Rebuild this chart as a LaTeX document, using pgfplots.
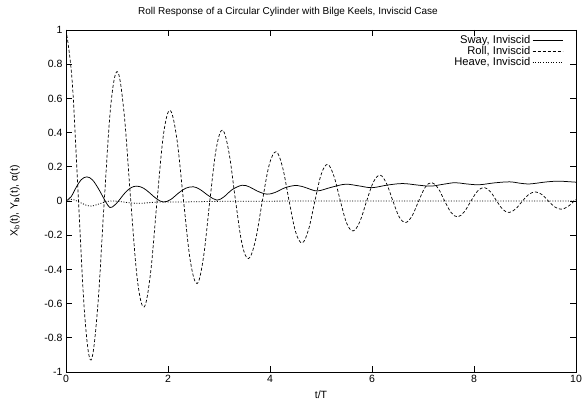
\documentclass[border=0pt]{standalone}
\usepackage{fontspec}
\setmainfont{Liberation Sans}
\usepackage{pgfplots}
\pgfplotsset{compat=1.18}
\begin{document}
\begin{tikzpicture}[font=\fontsize{10bp}{12bp}\selectfont]
\begin{axis}[
  at={(0,0)}, anchor=south west,
  scale only axis, width=510bp, height=342bp,
  xmin=0, xmax=10, ymin=-1, ymax=1,
  xtick={0,2,4,6,8,10},
  ytick={-1,-0.8,-0.6,-0.4,-0.2,0,0.2,0.4,0.6,0.8,1},
  /pgf/number format/assume math mode=true,
  /pgf/number format/fixed,
  tick align=inside, major tick length=6bp,
  axis line style={line width=0.8bp},
  tick style={line width=0.6bp, black},
  every tick label/.append style={font=\fontsize{10.5bp}{12bp}\selectfont},
  xlabel={t/T},
  ylabel={X\textsubscript{b}(t), Y\textsubscript{\textbf{b}}(t), α(t)},
  xlabel style={at={(axis description cs:0.5,0)}, anchor=center, yshift=-23bp, font=\fontsize{10.5bp}{12bp}\selectfont},
  ylabel style={at={(axis description cs:0,0.5)}, anchor=center, yshift=51bp, font=\fontsize{10.5bp}{12bp}\selectfont},
  legend style={draw=none, fill=none, at={(rel axis cs:0.975,0.99)}, anchor=north east,
    font=\fontsize{11.2bp}{11bp}\selectfont, row sep=-2.5bp, inner sep=0pt},
  legend cell align=right,
  legend plot pos=right,
  legend image code/.code={\draw[#1] (0bp,0bp) -- (30bp,0bp);},
]
\addplot[black, line width=0.75bp, smooth, tension=0.6] coordinates {
(0,0)(0.1,0.025)(0.2,0.08)(0.3,0.125)(0.41,0.141)(0.52,0.123)(0.64,0.07)(0.77,0.0)(0.86,-0.038)(0.95,-0.025)(1.03,0.0)(1.15,0.045)(1.27,0.077)(1.39,0.087)(1.52,0.075)(1.65,0.045)(1.78,0.012)(1.91,-0.006)(2.05,0.008)(2.2,0.045)(2.35,0.075)(2.5,0.083)(2.63,0.067)(2.8,0.03)(2.96,0.005)(3.1,0.025)(3.25,0.065)(3.45,0.092)(3.6,0.082)(3.75,0.058)(3.94,0.04)(4.1,0.05)(4.3,0.078)(4.53,0.091)(4.73,0.075)(4.93,0.059)(5.2,0.08)(5.48,0.098)(5.75,0.088)(6.0,0.078)(6.3,0.093)(6.6,0.102)(6.9,0.093)(7.15,0.087)(7.4,0.098)(7.63,0.107)(7.85,0.1)(8.1,0.095)(8.4,0.106)(8.7,0.112)(8.9,0.104)(9.1,0.1)(9.4,0.111)(9.64,0.116)(9.85,0.113)(10,0.11)
};
\addlegendentry{Sway, Inviscid}
\addplot[black, line width=0.7bp, dash pattern=on 3bp off 2bp, smooth, tension=0.6] coordinates {
(0,1)(0.1225,0.695)(0.245,0)(0.3675,-0.670)(0.49,-0.93)
(0.62,-0.627)(0.75,0)(0.88,0.565)(1.01,0.756)
(1.14,0.510)(1.27,0)(1.40,-0.462)(1.53,-0.62)
(1.6575,-0.422)(1.785,0)(1.9125,0.391)(2.04,0.53)
(2.1725,0.366)(2.305,0)(2.4375,-0.350)(2.57,-0.483)
(2.695,-0.330)(2.82,0)(2.945,0.305)(3.07,0.415)
(3.1975,0.280)(3.325,0)(3.4525,-0.252)(3.58,-0.337)
(3.715,-0.230)(3.85,0)(3.985,0.212)(4.12,0.288)
(4.2475,0.196)(4.375,0)(4.5025,-0.181)(4.63,-0.245)
(4.755,-0.168)(4.88,0)(5.005,0.157)(5.13,0.214)
(5.255,0.144)(5.38,0)(5.505,-0.131)(5.63,-0.175)
(5.7625,-0.120)(5.895,0)(6.0275,0.111)(6.16,0.151)
(6.285,0.102)(6.41,0)(6.535,-0.094)(6.66,-0.126)
(6.7875,-0.086)(6.915,0)(7.0425,0.080)(7.17,0.108)
(7.2975,0.074)(7.425,0)(7.5525,-0.068)(7.68,-0.093)
(7.81,-0.063)(7.94,0)(8.07,0.058)(8.20,0.079)
(8.3225,0.054)(8.445,0)(8.5675,-0.050)(8.69,-0.067)
(8.82,-0.045)(8.95,0)(9.08,0.040)(9.21,0.053)
(9.335,0.037)(9.46,0)(9.585,-0.035)(9.71,-0.048)
(9.8375,-0.033)(9.965,0)(10,0.01)
};
\addlegendentry{Roll, Inviscid}
\addplot[black, line width=0.8bp, dash pattern=on 1bp off 1.6bp, smooth, tension=0.5] coordinates {
(0,0)(0.12,0.01)(0.25,-0.005)(0.4,-0.025)(0.5,-0.03)(0.62,-0.02)(0.8,-0.003)(0.95,0.0)(1.1,-0.005)(1.3,-0.012)(1.5,-0.013)(1.7,-0.008)(1.9,-0.005)(2.2,-0.006)(2.6,-0.004)(3,-0.002)(4,-0.001)(5,0)(10,0)
};
\addlegendentry{Heave, Inviscid}
\end{axis}
\node at (222bp,360bp) {Roll Response of a Circular Cylinder with Bilge Keels, Inviscid Case};
\pgfresetboundingbox
\path (-66bp,-40bp) rectangle (517bp,372bp);
\end{tikzpicture}
\end{document}
